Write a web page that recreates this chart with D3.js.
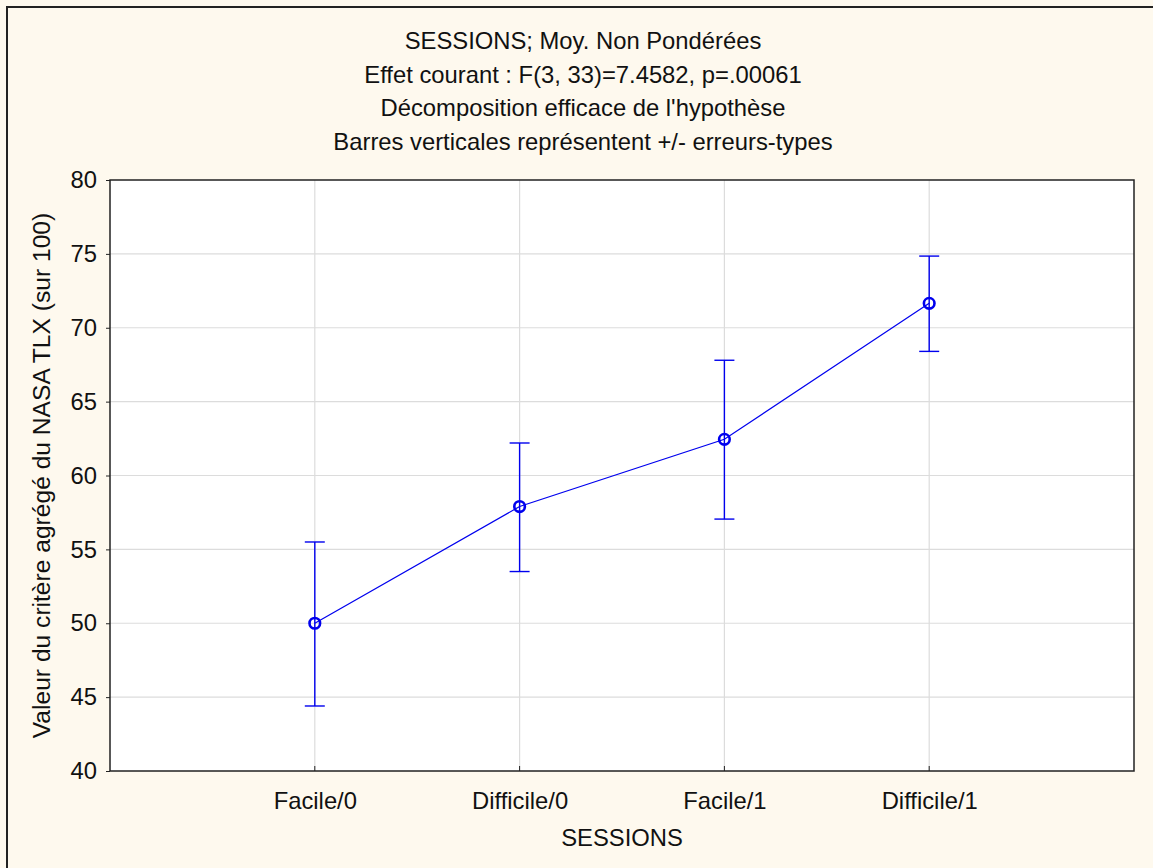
<!DOCTYPE html>
<html>
<head>
<meta charset="utf-8">
<script src="https://cdn.jsdelivr.net/npm/d3@7"></script>
<style>
  html, body { margin: 0; padding: 0; background: #fef9ee; }
  svg { display: block; }
  text { font-family: "Liberation Sans", Arial, sans-serif; fill: #111; }
</style>
</head>
<body>
<script>
// Session means of the NASA TLX aggregate score, with +/- standard errors
const categories = ["Facile/0", "Difficile/0", "Facile/1", "Difficile/1"];
const means      = [50.0, 57.9, 62.45, 71.65];
const errLow     = [44.4, 53.5, 57.05, 68.4];
const errHigh    = [55.5, 62.2, 67.8, 74.85];
const yTicks     = [40, 45, 50, 55, 60, 65, 70, 75, 80];
const titleLines = [
  "SESSIONS; Moy. Non Pondérées",
  "Effet courant : F(3, 33)=7.4582, p=.00061",
  "Décomposition efficace de l'hypothèse",
  "Barres verticales représentent +/- erreurs-types"
];
const xTitle = "SESSIONS";
const yTitle = "Valeur du critère agrégé du NASA TLX (sur 100)";

const W = 1153, H = 868;
const plot = { left: 110, top: 180, right: 1134, bottom: 771 };
const fontSize = 23.8;
const blue = "#0000ee";

const svg = d3.select("body").append("svg").attr("width", W).attr("height", H);

// page background and the partial frame on top/left
svg.append("rect").attr("width", W).attr("height", H).attr("fill", "#fef9ee");
svg.append("path")
  .attr("d", `M7,${H} L7,7 L${W},7`)
  .attr("fill", "none").attr("stroke", "#222").attr("stroke-width", 2);

const x = d3.scaleLinear().domain([0, categories.length + 1]).range([plot.left, plot.right]);
const y = d3.scaleLinear().domain([40, 80]).range([plot.bottom, plot.top]);
const xPos = i => x(i + 1);

// plot background
svg.append("rect")
  .attr("x", plot.left).attr("y", plot.top)
  .attr("width", plot.right - plot.left).attr("height", plot.bottom - plot.top)
  .attr("fill", "#ffffff");

// grid lines
const grid = svg.append("g").attr("stroke", "#dcdcdc").attr("stroke-width", 1.2);
grid.selectAll("line.h").data(yTicks.slice(1, -1)).join("line")
  .attr("x1", plot.left).attr("x2", plot.right)
  .attr("y1", d => y(d)).attr("y2", d => y(d));
grid.selectAll("line.v").data(categories).join("line")
  .attr("y1", plot.top).attr("y2", plot.bottom)
  .attr("x1", (d, i) => xPos(i)).attr("x2", (d, i) => xPos(i));

// y axis ticks and labels
const yAxis = d3.axisLeft(y).tickValues(yTicks).tickSize(4).tickPadding(9).tickFormat(d3.format("d"));
const gy = svg.append("g").attr("transform", `translate(${plot.left},0)`).call(yAxis);
gy.select(".domain").remove();
gy.selectAll(".tick line").attr("stroke", "#222");
gy.selectAll(".tick text").attr("font-size", fontSize).attr("font-family", "Liberation Sans, Arial, sans-serif").attr("fill", "#111");

// x axis ticks (inside) and labels
const xAxis = d3.axisBottom(x).tickValues(categories.map((d, i) => i + 1))
  .tickSize(0).tickPadding(21).tickFormat(v => categories[v - 1]);
const gx = svg.append("g").attr("transform", `translate(0,${plot.bottom})`).call(xAxis);
gx.select(".domain").remove();
gx.selectAll(".tick text").attr("font-size", fontSize).attr("font-family", "Liberation Sans, Arial, sans-serif").attr("fill", "#111");
svg.append("g").selectAll("line").data(categories).join("line")
  .attr("x1", (d, i) => xPos(i)).attr("x2", (d, i) => xPos(i))
  .attr("y1", plot.bottom).attr("y2", plot.bottom - 5)
  .attr("stroke", "#222").attr("stroke-width", 1);

// plot frame
svg.append("rect")
  .attr("x", plot.left).attr("y", plot.top)
  .attr("width", plot.right - plot.left).attr("height", plot.bottom - plot.top)
  .attr("fill", "none").attr("stroke", "#222").attr("stroke-width", 1.5);

// connecting line
const line = d3.line().x((d, i) => xPos(i)).y(d => y(d));
svg.append("path").datum(means)
  .attr("d", line).attr("fill", "none").attr("stroke", blue).attr("stroke-width", 1.2);

// error bars
const eb = svg.append("g").attr("stroke", blue).attr("stroke-width", 1.4);
categories.forEach((c, i) => {
  const cx = xPos(i);
  eb.append("line").attr("x1", cx).attr("x2", cx).attr("y1", y(errLow[i])).attr("y2", y(errHigh[i]));
  eb.append("line").attr("x1", cx - 10).attr("x2", cx + 10).attr("y1", y(errLow[i])).attr("y2", y(errLow[i]));
  eb.append("line").attr("x1", cx - 10).attr("x2", cx + 10).attr("y1", y(errHigh[i])).attr("y2", y(errHigh[i]));
});

// mean markers
svg.append("g").selectAll("circle").data(means).join("circle")
  .attr("cx", (d, i) => xPos(i)).attr("cy", d => y(d)).attr("r", 5.3)
  .attr("fill", "none").attr("stroke", blue).attr("stroke-width", 2.6);

// title block
svg.append("g").selectAll("text").data(titleLines).join("text")
  .attr("x", 583)
  .attr("y", (d, i) => 49 + i * 33.7)
  .attr("text-anchor", "middle").attr("font-size", fontSize)
  .text(d => d);

// axis titles
svg.append("text")
  .attr("x", (plot.left + plot.right) / 2).attr("y", 846)
  .attr("text-anchor", "middle").attr("font-size", fontSize)
  .text(xTitle);
svg.append("text")
  .attr("transform", `translate(50,${(plot.top + plot.bottom) / 2}) rotate(-90)`)
  .attr("text-anchor", "middle").attr("font-size", 24.6)
  .text(yTitle);
</script>
</body>
</html>
